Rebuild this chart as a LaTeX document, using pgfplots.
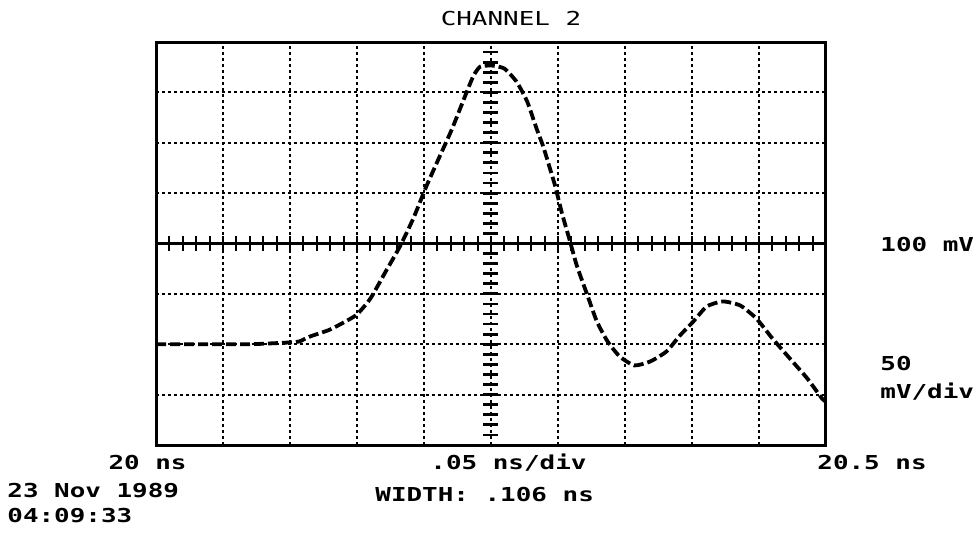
\documentclass[border=0pt]{standalone}
\usepackage{pgfplots}
\pgfplotsset{compat=1.18}
\usepackage{pgfplotstable}
\usepackage{fontspec}
\newfontfamily\scopefont[FakeStretch=1.35]{DejaVu Sans Mono}

% channel 2 trace: time (ns), voltage (mV)
\pgfplotstableread{
t       v
20.000  0
20.040  0
20.070  0
20.100  1.8
20.107  2.8
20.115  7.7
20.130  14.7
20.149  28.6
20.160  45.4
20.171  71.2
20.182  97.0
20.192  124.8
20.202  157.5
20.212  187.3
20.221  214.0
20.232  250.8
20.237  266.7
20.242  275.6
20.251  276.6
20.260  273.6
20.269  260.7
20.277  240.9
20.284  214.1
20.289  196.2
20.294  174.4
20.298  156.5
20.303  129.8
20.309  102.0
20.314  78.2
20.322  48.4
20.329  22.6
20.337  2.8
20.346  -12.1
20.357  -21.0
20.369  -17.0
20.381  -7.1
20.391  8.7
20.401  22.6
20.411  37.5
20.423  42.5
20.436  38.5
20.448  25.6
20.460  5.8
20.473  -14.1
20.486  -33.9
20.497  -53.8
20.500  -57.0
}\trace

\begin{document}
\begin{tikzpicture}
\path[use as bounding box] (0,0) rectangle (488bp,267bp);
\begin{axis}[
  at={(78bp,44.5bp)}, anchor=south west,
  scale only axis, width=335bp, height=201.5bp,
  xmin=20, xmax=20.5, ymin=-100, ymax=300,
  xtick={20,20.05,20.1,20.15,20.2,20.25,20.3,20.35,20.4,20.45,20.5},
  ytick={-100,-50,0,50,100,150,200,250,300},
  xticklabels={}, yticklabels={},
  major tick length=0pt,
  grid=major,
  major grid style={black, line width=1.1bp, dash pattern=on 1.3bp off 1.7bp},
  axis line style={black, line width=1.5bp},
]
\addplot[black, line width=1.9bp, dash pattern=on 5bp off 2bp, smooth, tension=0.35] table[x=t, y=v] {\trace};
\end{axis}
\begin{scope}[x=1bp, y=1bp]
  % centre horizontal graticule with minor ticks
  \draw[line width=1.5bp] (78,145.25) -- (413,145.25);
  \foreach \k in {1,...,49} {
    \draw[line width=1bp] (78+\k*6.7,141.5) -- (78+\k*6.7,149);
  }
  % centre vertical graticule: short hash marks
  \foreach \k in {1,...,39} {
    \draw[line width=1.4bp] (241.5,44.5+\k*5.0375) -- (249,44.5+\k*5.0375);
  }
  \node[font=\scopefont\fontsize{9.6bp}{10bp}\selectfont] at (255.5,257.5) {CHANNEL 2};
  \begin{scope}[every node/.style={font=\scopefont\bfseries\fontsize{9.6bp}{10bp}\selectfont, inner sep=0pt}]
    \node[anchor=west] at (440,144.5) {100 mV};
    \node[anchor=west] at (440,85.25) {50};
    \node[anchor=west] at (440,71) {mV/div};
    \node[anchor=east] at (93.5,35.75) {20 ns};
    \node at (254.25,35.75) {.05 ns/div};
    \node[anchor=west] at (408.5,35.75) {20.5 ns};
    \node[anchor=west] at (3.5,21.75) {23 Nov 1989};
    \node[anchor=west] at (3.5,9.25) {04:09:33};
    \node[anchor=west] at (187.5,19.75) {WIDTH: .106 ns};
  \end{scope}
\end{scope}
\end{tikzpicture}
\end{document}
